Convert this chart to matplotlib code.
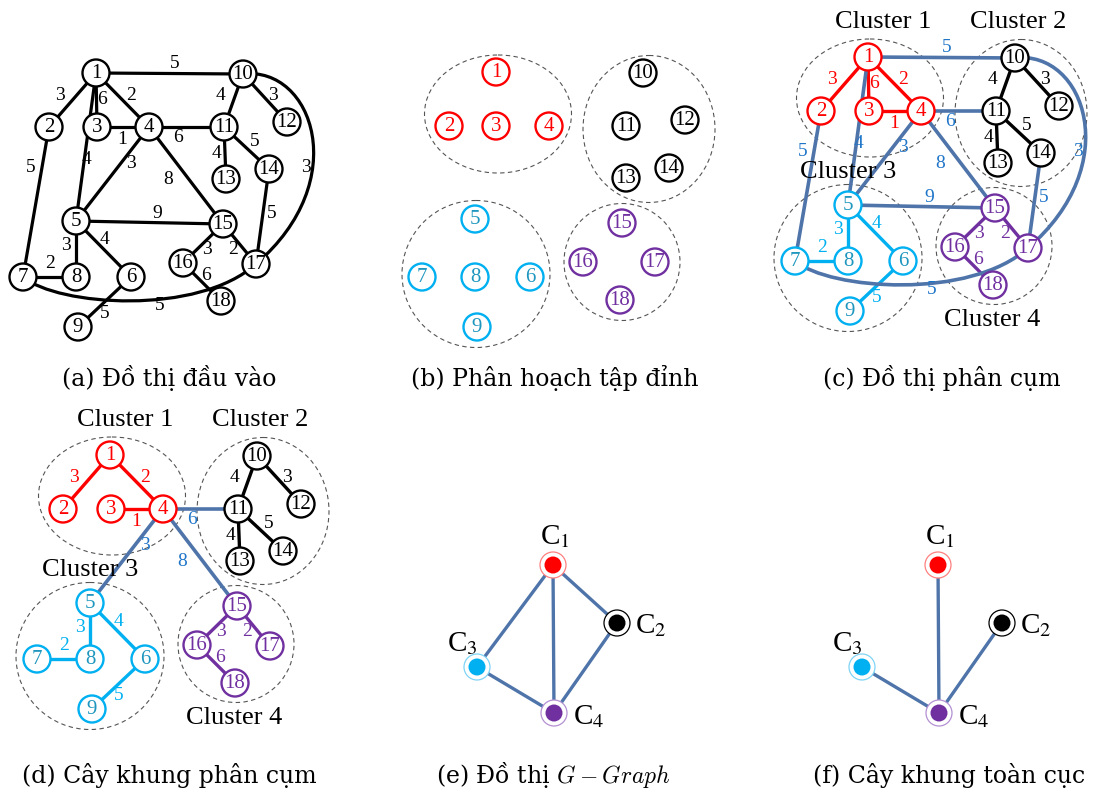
import matplotlib
matplotlib.use("Agg")
import matplotlib.pyplot as plt
from matplotlib.patches import Circle, Ellipse, PathPatch
from matplotlib.path import Path

plt.rcParams["mathtext.fontset"] = "stix"

# ------------------------------------------------------------------ data
cluster_members = {
    1: [1, 2, 3, 4],
    2: [10, 11, 12, 13, 14],
    3: [5, 6, 7, 8, 9],
    4: [15, 16, 17, 18],
}
edge_u = [1, 1, 1, 3, 10, 10, 11, 11, 5, 5, 7, 6, 15, 15, 16,
          1, 1, 2, 4, 4, 4, 5, 14, 10, 7]
edge_v = [2, 3, 4, 4, 11, 12, 13, 14, 8, 6, 8, 9, 16, 17, 18,
          10, 5, 7, 11, 5, 15, 15, 17, 17, 17]
edge_w = [3, 6, 2, 1, 4, 3, 4, 5, 3, 4, 2, 5, 3, 2, 6,
          5, 4, 5, 6, 3, 8, 9, 5, 3, 5]
# minimum spanning tree inside/between clusters
tree_edges = [(1, 2), (1, 4), (3, 4), (10, 11), (10, 12), (11, 13), (11, 14),
              (5, 8), (5, 6), (7, 8), (6, 9), (15, 16), (15, 17), (16, 18),
              (4, 11), (4, 5), (4, 15)]
# cluster graph and its spanning tree
cgraph_edges = [(1, 3), (1, 4), (1, 2), (2, 4), (3, 4)]
ctree_edges = [(1, 4), (2, 4), (3, 4)]
captions = ["(a) Đồ thị đầu vào", "(b) Phân hoạch tập đỉnh", "(c) Đồ thị phân cụm",
            "(d) Cây khung phân cụm", "(e) Đồ thị $G-Graph$", "(f) Cây khung toàn cục"]

# ------------------------------------------------------------------ styles
RED, BLACK, CYAN, PURPLE = "#FF0000", "#000000", "#00B0F0", "#7030A0"
cluster_color = {1: RED, 2: BLACK, 3: CYAN, 4: PURPLE}
node_text_color = {1: RED, 2: BLACK, 3: "#1E96BE", 4: PURPLE}
ring_color = {1: "#FF8080", 2: BLACK, 3: "#80D4F6", 4: "#B391D3"}
LINK = "#4E74AA"
LINK_TEXT = "#1F75C8"
SERIF = "Liberation Serif"
R_NODE = 13.5

# ------------------------------------------------------------------ layout
base_pos = {1: (868, 57), 2: (821, 111), 3: (869, 111), 4: (921, 111),
            5: (848, 205), 6: (903, 261), 7: (795, 261), 8: (848, 261),
            9: (850, 311), 10: (1015, 58), 11: (996, 111), 12: (1059, 106),
            13: (998, 163), 14: (1041, 153), 15: (995, 208), 16: (955, 247),
            17: (1028, 248), 18: (993, 285)}
label_pos = {(1, 2): (832, 80), (1, 3): (874, 83), (1, 4): (903, 80),
             (3, 4): (894, 124), (10, 11): (992, 80), (10, 12): (1045, 80),
             (11, 13): (988, 138), (11, 14): (1027, 125), (5, 8): (838, 230),
             (5, 6): (877, 223), (7, 8): (822, 248), (6, 9): (877, 297),
             (15, 16): (979, 233), (15, 17): (1005, 233), (16, 18): (978, 260),
             (1, 10): (947, 47), (1, 5): (859, 144), (2, 7): (803, 152),
             (4, 11): (950, 121), (4, 5): (903, 147), (4, 15): (940, 163),
             (5, 15): (929, 198), (14, 17): (1044, 198), (10, 17): (1078, 152),
             (7, 17): (932, 290)}
curve_ctrl = {(10, 17): [(1085, 50), (1125, 165)],
              (7, 17): [(830, 290), (970, 300)]}
ellipse_geo = {1: ((870, 98), 147, 118), 2: ((1021, 113), 132, 147),
               3: ((848, 258), 148, 147), 4: ((994, 246), 116, 117)}
title_pos = {1: (883, 22), 2: (1018, 22), 3: (848, 172), 4: (992, 320)}
b_pos = {1: (496, 72), 2: (449, 126), 3: (496, 126), 4: (549, 126),
         10: (643, 73), 11: (626, 126), 12: (685, 120), 13: (626, 178),
         14: (669, 168), 5: (475, 219), 7: (422, 277), 8: (475, 277),
         6: (530, 277), 9: (477, 327), 15: (622, 223), 16: (583, 262),
         17: (655, 262), 18: (620, 300)}
c_pos = {1: (553, 565), 2: (617, 623), 3: (477, 667), 4: (554, 713)}
c_label_off = {1: (2, -28), 2: (34, 3), 3: (-15, -23), 4: (35, 4)}
caption_pos = [(169, 378), (555, 378), (942, 378),
               (169, 775), (553, 775), (949, 775)]
OFF_A, OFF_B, OFF_C, OFF_D = (-772, 16), (-372, 16), (0, 0), (-758, 398)
OFF_F = 385

node_cluster = {n: c for c, ms in cluster_members.items() for n in ms}

fig = plt.figure(figsize=(10.94, 7.94), dpi=100)
ax = fig.add_axes([0, 0, 1, 1])
ax.set_xlim(0, 1094)
ax.set_ylim(794, 0)
ax.axis("off")


def sh(p, off):
    return (p[0] + off[0], p[1] + off[1])


def draw_node(xy, n, col, tcol):
    ax.add_patch(Circle(xy, R_NODE, fc="white", ec=col, lw=1.7, zorder=3))
    ax.text(xy[0], xy[1] + 0.5, str(n), ha="center", va="center", color=tcol,
            fontsize=15, family=SERIF, zorder=4)


def draw_edge(u, v, off, col, lw=2.3):
    a, b = sh(base_pos[u], off), sh(base_pos[v], off)
    key = (u, v)
    if key in curve_ctrl:
        c1, c2 = (sh(p, off) for p in curve_ctrl[key])
        path = Path([a, c1, c2, b], [Path.MOVETO, Path.CURVE4, Path.CURVE4, Path.CURVE4])
        ax.add_patch(PathPatch(path, fc="none", ec=col, lw=lw, zorder=1))
    else:
        ax.plot([a[0], b[0]], [a[1], b[1]], color=col, lw=lw, zorder=1,
                solid_capstyle="butt")


def draw_weight(u, v, w, off, col):
    p = sh(label_pos[(u, v)], off)
    ax.text(p[0], p[1], str(w), ha="center", va="center", color=col,
            fontsize=14, family=SERIF, zorder=5)


def draw_clusters(off, ell_off):
    for c, (ctr, w, h) in ellipse_geo.items():
        ax.add_patch(Ellipse(sh(ctr, ell_off), w, h, fc="none", ec="#555555",
                             lw=0.8, ls=(0, (4, 3)), zorder=0))
    if off is not None:
        for c, p in title_pos.items():
            q = sh(p, off)
            ax.text(q[0], q[1], f"Cluster {c}", ha="center", va="center",
                    fontsize=19, family=SERIF, color="black", zorder=6)


# (a) input graph
for u, v, w in zip(edge_u, edge_v, edge_w):
    draw_edge(u, v, OFF_A, BLACK)
    draw_weight(u, v, w, OFF_A, BLACK)
for n, p in base_pos.items():
    draw_node(sh(p, OFF_A), n, BLACK, BLACK)

# (b) vertex partition
draw_clusters(None, OFF_B)
for n, p in b_pos.items():
    c = node_cluster[n]
    draw_node(p, n, cluster_color[c], node_text_color[c])


# (c) clustered graph and (d) clustered spanning tree
def clustered(off, keep=None):
    draw_clusters(off, off)
    for u, v, w in zip(edge_u, edge_v, edge_w):
        if keep is not None and (u, v) not in keep:
            continue
        cu, cv = node_cluster[u], node_cluster[v]
        if cu == cv:
            draw_edge(u, v, off, cluster_color[cu], lw=2.4)
            draw_weight(u, v, w, off, cluster_color[cu])
        else:
            draw_edge(u, v, off, LINK, lw=2.6)
            draw_weight(u, v, w, off, LINK_TEXT)
    for n, p in base_pos.items():
        c = node_cluster[n]
        draw_node(sh(p, off), n, cluster_color[c], node_text_color[c])


clustered(OFF_C)
clustered(OFF_D, keep=set(tree_edges))


# (e) cluster graph and (f) global spanning tree
def cluster_graph(dx, edges):
    for a, b in edges:
        pa, pb = c_pos[a], c_pos[b]
        ax.plot([pa[0] + dx, pb[0] + dx], [pa[1], pb[1]], color=LINK, lw=2.4,
                zorder=1, solid_capstyle="butt")
    for c, p in c_pos.items():
        q = (p[0] + dx, p[1])
        ax.add_patch(Circle(q, 13, fc="white", ec=ring_color[c], lw=0.9, zorder=3))
        ax.add_patch(Circle(q, 8.5, fc=cluster_color[c], ec="none", zorder=4))
        o = c_label_off[c]
        ax.text(q[0] + o[0], q[1] + o[1], f"C$_{c}$", ha="center", va="center",
                fontsize=21, family=SERIF, zorder=5)


cluster_graph(0, cgraph_edges)
cluster_graph(OFF_F, ctree_edges)

# captions
for txt, (x, y) in zip(captions, caption_pos):
    ax.text(x, y, txt, ha="center", va="center", fontsize=17,
            family="DejaVu Serif", math_fontfamily="cm", color="black")

fig.savefig("out.png", dpi=100, facecolor="white")
